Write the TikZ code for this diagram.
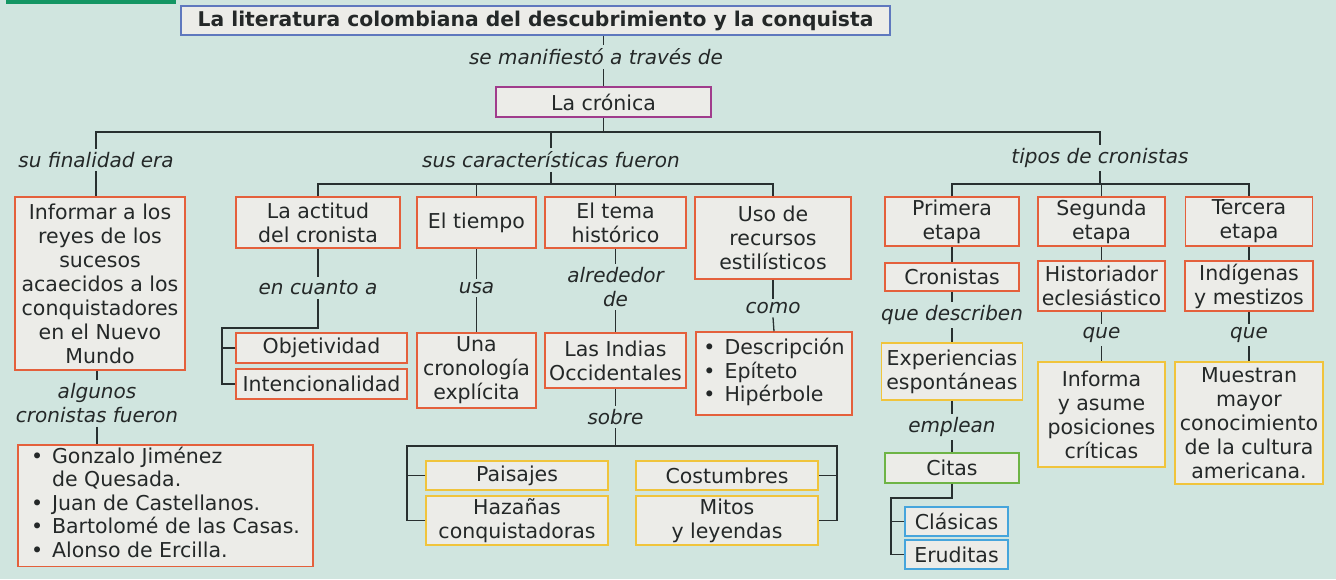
\documentclass[tikz,border=0pt]{standalone}
\usepackage{fontspec}
\setmainfont{DejaVu Sans}
\usetikzlibrary{positioning}

\definecolor{fondo}{RGB}{208,229,223}
\definecolor{relleno}{RGB}{236,236,232}
\definecolor{texto}{RGB}{36,40,40}
\definecolor{linea}{RGB}{40,48,48}
\definecolor{azul}{RGB}{95,120,190}
\definecolor{morado}{RGB}{160,60,140}
\definecolor{naranja}{RGB}{228,96,60}
\definecolor{amarillo}{RGB}{240,196,60}
\definecolor{verde}{RGB}{110,180,70}
\definecolor{celeste}{RGB}{70,165,220}
\definecolor{pestana}{RGB}{20,150,100}

\begin{document}
\begin{tikzpicture}[x=1pt, y=-1pt, line width=1.3pt, draw=linea, text=texto,
  every node/.style={font=\fontsize{20.5}{24}\selectfont},
  caja/.style={draw, fill=relleno, line width=1.5pt, align=center, inner sep=2pt},
  roja/.style={caja, draw=naranja},
  amarilla/.style={caja, draw=amarillo},
  tam/.style 2 args={minimum width=#1, minimum height=#2},
  enlace/.style={font=\itshape\fontsize{20}{24}\selectfont, align=center, inner sep=3pt}]

  % Fondo
  \fill[fondo] (0,0) rectangle (1336,579);
  \useasboundingbox (0,0) rectangle (1336,579);
  \fill[pestana] (6,0) rectangle (176,4);

  % Nodos superiores
  \node[caja, draw=azul, tam={709pt}{29pt}, font=\bfseries\fontsize{20.3}{24}\selectfont] (titulo) at (535.5,20.5)
    {La literatura colombiana del descubrimiento y la conquista};
  \node[enlace] (manif) at (596,57) {se manifiestó a través de};
  \node[caja, draw=morado, tam={215pt}{30pt}] (cronica) at (603.5,102) {La crónica};

  \node[enlace] (fin) at (96,160) {su finalidad era};
  \node[enlace] (carac) at (551,160) {sus características fueron};
  \node[enlace] (tipos) at (1100,158) {tipos de cronistas};

  % Finalidad
  \node[roja, tam={170pt}{173pt}] (inf) at (100,283.5)
    {Informar a los\\reyes de los\\sucesos\\acaecidos a los\\conquistadores\\en el Nuevo\\Mundo};
  \node[enlace] (algunos) at (97,403.5) {algunos\\cronistas fueron};
  \node[roja, tam={295pt}{121pt}, font=\fontsize{20.5}{23.5}\selectfont] (lista) at (165.5,505.5)
    {\begin{tabular}{@{}l@{\hspace{9pt}}l@{}}
      \textbullet & Gonzalo Jiménez\\
                  & de Quesada.\\
      \textbullet & Juan de Castellanos.\\
      \textbullet & Bartolomé de las Casas.\\
      \textbullet & Alonso de Ercilla.
    \end{tabular}};

  % Caracteristicas
  \node[roja, tam={164pt}{51pt}] (actitud) at (318,222.5) {La actitud\\del cronista};
  \node[roja, tam={119pt}{51pt}] (tiempo) at (476.5,222.5) {El tiempo};
  \node[roja, tam={141pt}{51pt}] (tema) at (615.5,222.5) {El tema\\histórico};
  \node[roja, tam={156pt}{82pt}] (uso) at (773,238) {Uso de\\recursos\\estilísticos};

  \node[enlace] (cuanto) at (318,288) {en cuanto a};
  \node[roja, tam={171pt}{30pt}] (obj) at (321.5,348) {Objetividad};
  \node[roja, tam={171pt}{30pt}] (inten) at (321.5,384) {Intencionalidad};
  \coordinate (brk) at (222,328);

  \node[enlace] (usa) at (476.5,288) {usa};
  \node[roja, tam={119pt}{75pt}] (crono) at (476.5,370.5) {Una\\cronología\\explícita};

  \node[enlace] (alred) at (615.5,287) {alrededor\\de};
  \node[roja, tam={141pt}{55pt}] (indias) at (615.5,360.5) {Las Indias\\Occidentales};
  \node[enlace] (sobre) at (615.5,417) {sobre};
  \node[amarilla, tam={182pt}{29pt}] (paisajes) at (517,475.5) {Paisajes};
  \node[amarilla, tam={182pt}{49pt}] (hazanas) at (517,520.5) {Hazañas\\conquistadoras};
  \node[amarilla, tam={182pt}{29pt}] (costumbres) at (727,475.5) {Costumbres};
  \node[amarilla, tam={182pt}{49pt}] (mitos) at (727,520.5) {Mitos\\y leyendas};
  \coordinate (sobreL) at (407,446);
  \coordinate (sobreR) at (837,446);

  \node[enlace] (como) at (773,308) {como};
  \node[roja, tam={156pt}{83pt}, font=\fontsize{20.5}{23.5}\selectfont] (desc) at (774,373.5)
    {\begin{tabular}{@{}l@{\hspace{9pt}}l@{}}
      \textbullet & Descripción\\
      \textbullet & Epíteto\\
      \textbullet & Hipérbole
    \end{tabular}};

  % Tipos de cronistas
  \node[roja, tam={134pt}{49pt}] (primera) at (952,221.5) {Primera\\etapa};
  \node[roja, tam={127pt}{49pt}] (segunda) at (1101.5,221.5) {Segunda\\etapa};
  \node[roja, tam={127pt}{49pt}] (tercera) at (1249,221.5) {Tercera\\etapa};

  \node[roja, tam={134pt}{28pt}] (cronistas) at (952,277) {Cronistas};
  \node[enlace] (describen) at (952,315) {que describen};
  \node[amarilla, tam={141pt}{57pt}] (exper) at (952,371.5) {Experiencias\\espontáneas};
  \node[enlace] (emplean) at (952,427) {emplean};
  \node[caja, draw=verde, tam={134pt}{30pt}] (citas) at (952,468) {Citas};
  \node[caja, draw=celeste, tam={103pt}{29pt}] (clasicas) at (956.5,521.5) {Clásicas};
  \node[caja, draw=celeste, tam={103pt}{29pt}] (eruditas) at (956.5,554.5) {Eruditas};
  \coordinate (citasbrk) at (891,498);

  \node[roja, tam={127pt}{50pt}] (historiador) at (1101.5,286) {Historiador\\eclesiástico};
  \node[enlace] (que2) at (1101.5,335) {que};
  \node[amarilla, tam={127pt}{105pt}] (informa) at (1101.5,414.5) {Informa\\y asume\\posiciones\\críticas};

  \node[roja, tam={128pt}{50pt}] (indigenas) at (1249,286) {Indígenas\\y mestizos};
  \node[enlace] (que3) at (1249,335) {que};
  \node[amarilla, tam={148pt}{122pt}] (muestran) at (1249,423) {Muestran\\mayor\\conocimiento\\de la cultura\\americana.};

  % Conectores
  \coordinate (bus) at (0,132);
  \coordinate (cbus) at (0,184);
  \coordinate (tbus) at (0,184);
  \draw (titulo.south -| cronica) -- (manif.north -| cronica);
  \draw (manif.south -| cronica) -- (cronica.north);
  \draw (fin.north) -- (fin.north |- bus) -- (tipos.north |- bus) -- (tipos.north);
  \draw (cronica.south) -- (cronica.south |- bus);
  \draw (carac.north) -- (carac.north |- bus);

  \draw (fin.south) -- (fin.south |- inf.north);
  \draw (inf.south -| algunos) -- (algunos.north);
  \draw (algunos.south) -- (algunos.south |- lista.north);

  \draw (carac.south) -- (carac.south |- cbus);
  \draw (actitud.north) -- (actitud.north |- cbus) -- (uso.north |- cbus) -- (uso.north);
  \draw (tiempo.north) -- (tiempo.north |- cbus);
  \draw (tema.north) -- (tema.north |- cbus);

  \draw (actitud.south) -- (cuanto.north);
  \draw (cuanto.south) |- (brk) |- (inten.west);
  \draw (obj.west) -- (obj.west -| brk);
  \draw (tiempo.south) -- (usa.north);
  \draw (usa.south) -- (crono.north);
  \draw (tema.south) -- (alred.north);
  \draw (alred.south) -- (indias.north);
  \draw (indias.south) -- (sobre.north);
  \draw (sobre.south) -- (sobre.south |- sobreL);
  \draw (hazanas.west) -| (sobreL) -- (sobreR) |- (mitos.east);
  \draw (paisajes.west) -- (paisajes.west -| sobreL);
  \draw (costumbres.east) -- (costumbres.east -| sobreR);
  \draw (uso.south) -- (como.north);
  \draw (como.south) -- (desc.north);

  \draw (tipos.south) -- (tipos.south |- tbus);
  \draw (primera.north) -- (primera.north |- tbus) -- (tercera.north |- tbus) -- (tercera.north);
  \draw (segunda.north) -- (segunda.north |- tbus);
  \draw (primera) -- (cronistas);
  \draw (cronistas) -- (describen);
  \draw (describen) -- (exper);
  \draw (exper) -- (emplean);
  \draw (emplean) -- (citas);
  \draw (citas.south) |- (citasbrk) |- (eruditas.west);
  \draw (clasicas.west) -- (clasicas.west -| citasbrk);
  \draw (segunda) -- (historiador);
  \draw (historiador) -- (que2);
  \draw (que2) -- (informa);
  \draw (tercera) -- (indigenas);
  \draw (indigenas) -- (que3);
  \draw (que3) -- (muestran);
\end{tikzpicture}
\end{document}
